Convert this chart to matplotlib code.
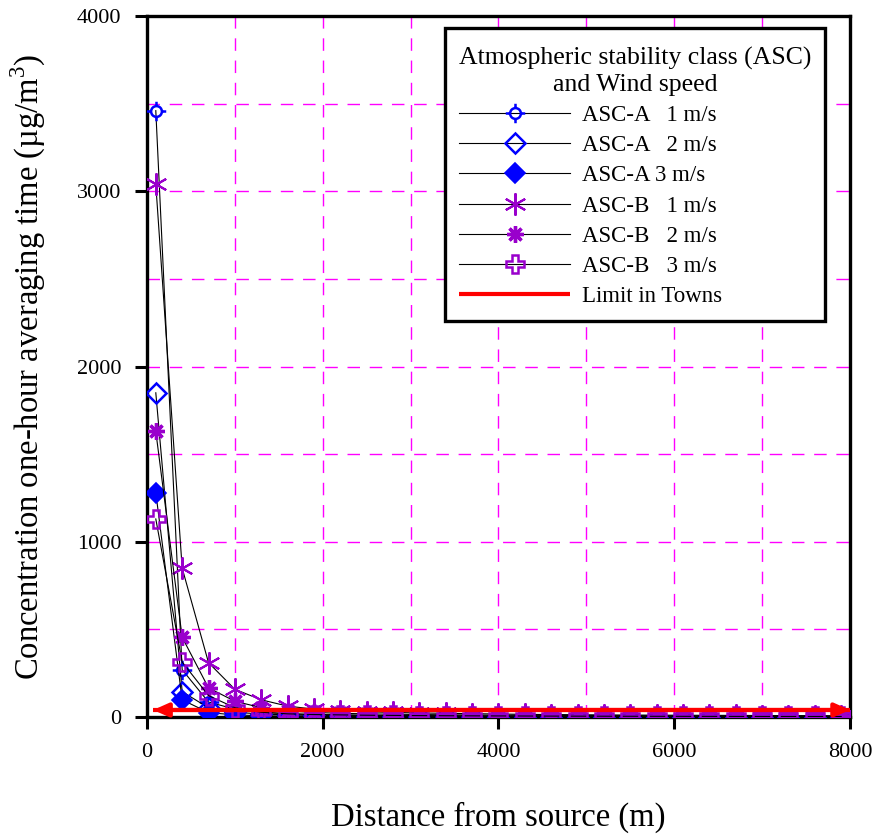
import numpy as np
import matplotlib
matplotlib.use("Agg")
import matplotlib.pyplot as plt
from matplotlib.path import Path
from matplotlib.ticker import MultipleLocator
from matplotlib.offsetbox import VPacker, DrawingArea

# ── data ──────────────────────────────────────────────────────────────────────
distance = [100, 400, 700, 1000, 1300, 1600, 1900, 2200, 2500, 2800, 3100, 3400,
            3700, 4000, 4300, 4600, 4900, 5200, 5500, 5800, 6100, 6400, 6700,
            7000, 7300, 7600, 7900]

asc_a_1 = [3460, 270, 85, 45, 28, 19, 14, 11, 9, 7.5, 6.5, 5.5, 5, 4.5, 4,
           3.6, 3.3, 3, 2.8, 2.6, 2.4, 2.2, 2.1, 2, 1.9, 1.8, 1.7]
asc_a_2 = [1850, 145, 52, 27, 17, 12, 9, 7, 5.5, 4.5, 3.8, 3.2, 2.8, 2.5, 2.2,
           2, 1.8, 1.7, 1.6, 1.5, 1.4, 1.3, 1.2, 1.1, 1.1, 1, 1]
asc_a_3 = [1280, 98, 25, 12, 7, 5, 4, 3, 2.5, 2.2, 2, 1.8, 1.6, 1.5, 1.4, 1.3,
           1.2, 1.1, 1, 1, 0.9, 0.9, 0.8, 0.8, 0.8, 0.7, 0.7]
asc_b_1 = [3040, 850, 310, 158, 98, 62, 45, 36, 30, 26, 23, 21, 19, 17, 15, 14,
           13, 12, 11, 10.5, 10, 9.5, 9, 8.5, 8, 7.5, 7]
asc_b_2 = [1630, 455, 166, 90, 53, 34, 26, 21, 18, 16, 14, 12.5, 11.5, 10.5,
           9.5, 9, 8.5, 8, 7.5, 7, 6.5, 6, 5.8, 5.5, 5.2, 5, 4.8]
asc_b_3 = [1130, 314, 122, 53, 27, 18, 14, 12, 10, 9, 8, 7.2, 6.5, 6, 5.5, 5,
           4.7, 4.4, 4.1, 3.9, 3.7, 3.5, 3.3, 3.1, 3, 2.9, 2.8]

limit_x = [70, 8000]
limit_y = 40

labels = ["ASC-A   1 m/s", "ASC-A   2 m/s", "ASC-A 3 m/s",
          "ASC-B   1 m/s", "ASC-B   2 m/s", "ASC-B   3 m/s"]

BLUE = "#0000FF"
PURPLE = "#9900CC"

plt.rcParams["font.family"] = ["Liberation Serif", "DejaVu Serif"]
plt.rcParams["mathtext.fontset"] = "custom"
plt.rcParams["mathtext.rm"] = "Liberation Serif"

# circle with crosshair stubs
circ = Path.unit_circle()
stubs = Path([(-1.8, 0), (-1, 0), (1, 0), (1.8, 0), (0, 1), (0, 1.8), (0, -1), (0, -1.8)],
             [Path.MOVETO, Path.LINETO] * 4)
cross_circle = Path.make_compound_path(circ, stubs)

styles = [
    dict(marker=cross_circle, ms=14, mfc="none", mec=BLUE, mew=1.8),
    dict(marker="D", ms=10, mfc="none", mec=BLUE, mew=1.8),
    dict(marker="D", ms=10, mfc=BLUE, mec=BLUE, mew=1.2),
    dict(marker=(6, 2, 0), ms=16, mfc="none", mec=PURPLE, mew=1.5),
    dict(marker=(8, 2, 0), ms=12, mfc="none", mec=PURPLE, mew=2.4),
    dict(marker="P", ms=13, mfc="none", mec=PURPLE, mew=1.8),
]
series = [asc_a_1, asc_a_2, asc_a_3, asc_b_1, asc_b_2, asc_b_3]

fig = plt.figure(figsize=(8.74, 8.34), dpi=100)
ax = fig.add_axes([0.1682, 0.1403, 0.8043, 0.8405])

handles = []
for vals, lab, st in zip(series, labels, styles):
    h, = ax.plot(distance, vals, color="black", lw=0.8, label=lab, zorder=3, **st)
    handles.append(h)

lim_h, = ax.plot(limit_x, [limit_y, limit_y], color="red", lw=3,
                 label="Limit in Towns", zorder=4, solid_capstyle="butt")
handles.append(lim_h)
ax.annotate("", xy=(limit_x[0], limit_y), xytext=(limit_x[1], limit_y),
            arrowprops=dict(arrowstyle="<|-|>,head_length=0.9,head_width=0.4",
                            color="red", lw=3, shrinkA=0, shrinkB=0),
            annotation_clip=False, zorder=4)

ax.set_xlim(0, 8000)
ax.set_ylim(0, 4000)
ax.xaxis.set_major_locator(MultipleLocator(2000))
ax.xaxis.set_minor_locator(MultipleLocator(1000))
ax.yaxis.set_major_locator(MultipleLocator(1000))
ax.yaxis.set_minor_locator(MultipleLocator(500))
ax.tick_params(which="major", direction="out", length=8.5, width=2.2,
               labelsize=16, pad=10)
ax.tick_params(which="minor", length=0)
ax.grid(which="both", color="#FF00FF", lw=1, linestyle=(0, (9, 7)), zorder=1)
ax.set_axisbelow(True)
for sp in ax.spines.values():
    sp.set_linewidth(2.4)

ax.set_xlabel("Distance from source (m)", fontsize=23.5, labelpad=29)
ax.set_ylabel("Concentration one-hour averaging time (\u00b5g/m$^3$)",
              fontsize=23.5, labelpad=21)

leg = ax.legend(handles=handles, loc="upper right",
                bbox_to_anchor=(0.965, 0.983),
                title="Atmospheric stability class (ASC)\nand Wind speed",
                title_fontsize=18.5, fontsize=16.5, handlelength=4.85,
                handletextpad=0.5, labelspacing=0.4, borderpad=0.6,
                borderaxespad=0, frameon=True, fancybox=False, framealpha=1,
                numpoints=1, alignment="left")
leg.get_frame().set_edgecolor("black")
leg.get_frame().set_linewidth(2.4)
leg.get_title().set_multialignment("center")
# a little extra room above the legend title
box_kids = leg._legend_box.get_children()
box_kids[0] = VPacker(children=[DrawingArea(1, 4), box_kids[0]],
                      pad=0, sep=0, align="center")

fig.savefig("out.png", dpi=100)
